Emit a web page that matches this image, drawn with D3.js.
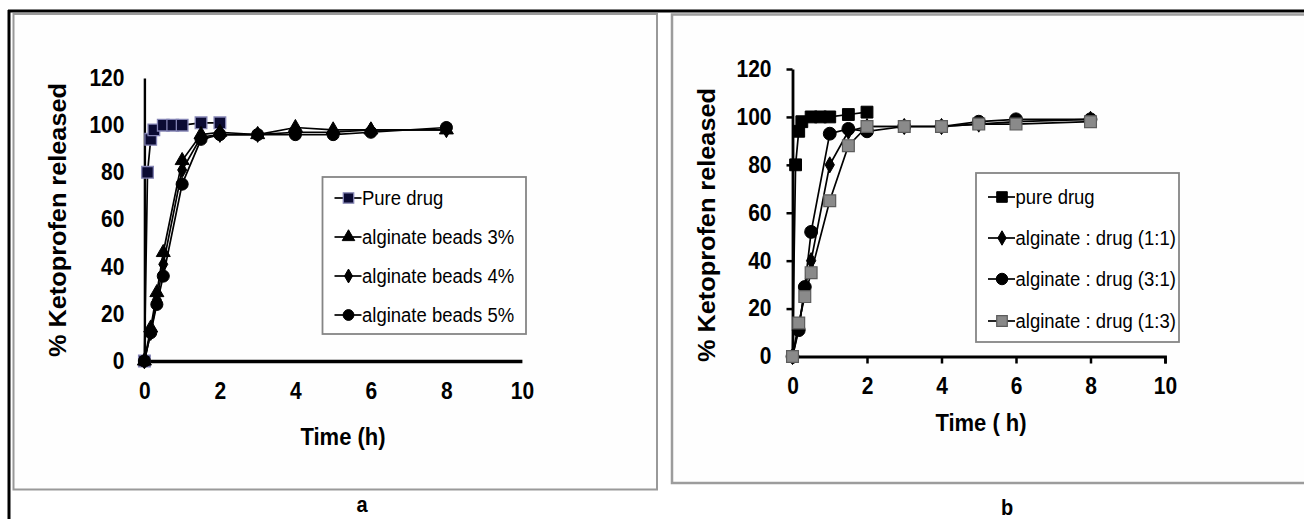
<!DOCTYPE html>
<html>
<head>
<meta charset="utf-8">
<script src="https://cdn.jsdelivr.net/npm/d3@7"></script>
<style>
  html, body { margin: 0; padding: 0; background: #ffffff; }
  svg { display: block; }
  text { font-family: "Liberation Sans", Arial, Helvetica, sans-serif; fill: #000; }
</style>
</head>
<body>
<svg id="fig" width="1304" height="519"></svg>
<script>
// Sampling times (hours)
const timesPure = [0, 0.083, 0.167, 0.25, 0.5, 0.75, 1, 1.5, 2];
const timesBeads = [0, 0.167, 0.33, 0.5, 1, 1.5, 2, 3, 4, 5, 6, 8];

// Panel a: % ketoprofen released
const pureDrugA = [0, 80, 94, 98, 100, 100, 100, 101, 101];
const beads3 = [0, 14, 29, 46, 85, 96, 97, 96, 99, 98, 98, 98];
const beads4 = [0, 12, 26, 41, 81, 95, 96, 96, 97, 97, 98, 98];
const beads5 = [0, 12, 24, 36, 75, 94, 96, 96, 96, 96, 97, 99];

// Panel b: % ketoprofen released
const pureDrugB = [0, 80, 94, 98, 100, 100, 100, 101, 102];
const ratio11 = [0, 12, 28, 40, 80, 94, 96, 96, 96, 97, 98, 99];
const ratio31 = [0, 11, 29, 52, 93, 95, 94, 96, 96, 98, 99, 99];
const ratio13 = [0, 14, 25, 35, 65, 88, 96, 96, 96, 97, 97, 98];

// Axis ticks and labels
const xTicks = [0, 2, 4, 6, 8, 10];
const yTicks = [0, 20, 40, 60, 80, 100, 120];
const legendA = ["Pure drug", "alginate beads 3%", "alginate beads 4%", "alginate beads 5%"];
const legendB = ["pure drug", "alginate : drug (1:1)", "alginate : drug (3:1)", "alginate : drug (1:3)"];

const svg = d3.select("#fig");
const STRETCH = "scale(1,1.1)";

// Page frame: table rules and the two figure boxes
svg.append("line").attr("x1", 8).attr("x2", 1304).attr("y1", 11).attr("y2", 11)
  .attr("stroke", "#000").attr("stroke-width", 3);
svg.append("line").attr("x1", 9).attr("x2", 9).attr("y1", 10).attr("y2", 519)
  .attr("stroke", "#000").attr("stroke-width", 3);
svg.append("rect").attr("x", 13.5).attr("y", 14).attr("width", 643.5).attr("height", 475.5)
  .attr("fill", "#fefefe").attr("stroke", "#999").attr("stroke-width", 2);
svg.append("rect").attr("x", 672).attr("y", 14.5).attr("width", 700).attr("height", 468.5)
  .attr("fill", "#fefefe").attr("stroke", "#9c9c9c").attr("stroke-width", 2.5);

function stretchedText(g, x, y, str, opts) {
  return g.append("text")
    .attr("transform", `translate(${x},${y}) ${STRETCH}` + (opts.rotate ? " rotate(-90)" : ""))
    .attr("text-anchor", opts.anchor || "start")
    .attr("font-size", opts.size)
    .attr("font-weight", opts.weight || "normal")
    .text(str);
}

const symbolTypes = {
  square: d3.symbolSquare,
  triangle: d3.symbolTriangle,
  diamond: d3.symbolDiamond,
  circle: d3.symbolCircle
};

function drawPanel(cfg) {
  const g = svg.append("g");
  const x = d3.scaleLinear().domain([0, 10]).range(cfg.xRange);
  const y = d3.scaleLinear().domain([0, 120]).range(cfg.yRange);

  // axes
  const xAxis = d3.axisBottom(x).tickValues(xTicks).tickFormat(d3.format("d"))
    .tickSizeInner(cfg.tickX).tickSizeOuter(cfg.tickX).tickPadding(cfg.padX);
  const yAxis = d3.axisLeft(y).tickValues(yTicks).tickFormat(d3.format("d"))
    .tickSizeInner(cfg.tickY).tickSizeOuter(0).tickPadding(cfg.padY);

  const gx = g.append("g").attr("transform", `translate(0,${cfg.yRange[0]})`).call(xAxis);
  const gy = g.append("g").attr("transform", `translate(${cfg.xRange[0]},0)`).call(yAxis);
  [gx, gy].forEach(ax => {
    ax.select(".domain").attr("stroke", "#000");
    ax.selectAll(".tick line").attr("stroke", "#000").attr("stroke-width", 2.5);
    ax.selectAll(".tick text")
      .attr("font-size", 21).attr("font-weight", "bold")
      .attr("font-family", "'Liberation Sans', Arial, sans-serif")
      .attr("fill", "#111")
      .attr("transform", STRETCH);
  });
  gx.select(".domain").attr("stroke-width", cfg.xAxisWidth);
  gy.select(".domain").attr("stroke-width", cfg.yAxisWidth);
  gy.select(".tick line").filter(d => d === 0).remove();

  // axis titles
  stretchedText(g, cfg.yTitle[0], cfg.yTitle[1], "% Ketoprofen released",
    { rotate: true, anchor: "middle", size: 23, weight: "bold" });
  stretchedText(g, cfg.xTitle[0], cfg.xTitle[1], cfg.xTitleText,
    { anchor: "middle", size: 22, weight: "bold" });

  // series lines then markers
  const line = d3.line().x(d => x(d[0])).y(d => y(d[1]));
  cfg.series.forEach(s => {
    const pts = s.t.map((t, i) => [t, s.v[i]]);
    g.append("path").datum(pts).attr("d", line)
      .attr("fill", "none").attr("stroke", s.line || "#000").attr("stroke-width", 1.7);
    g.selectAll(null).data(pts).enter().append("path")
      .attr("transform", d => `translate(${x(d[0])},${y(d[1])})`)
      .attr("d", d3.symbol(symbolTypes[s.shape], s.size))
      .attr("fill", s.fill).attr("stroke", s.stroke).attr("stroke-width", s.strokeWidth || 1);
  });

  // legend
  const L = cfg.legend;
  g.append("rect").attr("x", L.x).attr("y", L.y).attr("width", L.w).attr("height", L.h)
    .attr("fill", "#fff").attr("stroke", "#858585").attr("stroke-width", 1.8);
  cfg.series.forEach((s, i) => {
    const cy = L.rows[i];
    g.append("line").attr("x1", L.x + 12).attr("x2", L.x + 39).attr("y1", cy).attr("y2", cy)
      .attr("stroke", "#000").attr("stroke-width", 1.7);
    g.append("path").attr("transform", `translate(${L.x + 26},${cy})`)
      .attr("d", d3.symbol(symbolTypes[s.shape], s.size * 0.8))
      .attr("fill", s.fill).attr("stroke", s.stroke).attr("stroke-width", s.strokeWidth || 1);
    stretchedText(g, L.x + 39.5, cy + 6.5, s.name, { size: 18.5 });
  });

  // panel letter
  stretchedText(svg, cfg.letter[0], cfg.letter[1], cfg.letterText,
    { anchor: "middle", size: 20, weight: "bold" });
}

drawPanel({
  xRange: [144.4, 521.9],
  yRange: [361, 78],
  tickX: 0, tickY: 0, padX: 20, padY: 20,
  xAxisWidth: 3.4, yAxisWidth: 2.4,
  yTitle: [66, 220],
  xTitle: [343, 445], xTitleText: "Time (h)",
  letter: [362, 512], letterText: "a",
  legend: { x: 322.5, y: 177, w: 203.5, h: 157, rows: [198, 237, 276, 315] },
  series: [
    { name: legendA[0], t: timesPure, v: pureDrugA, shape: "square", size: 135,
      fill: "#0b0b33", stroke: "#8484b4", strokeWidth: 1.3 },
    { name: legendA[1], t: timesBeads, v: beads3, shape: "triangle", size: 85,
      fill: "#000", stroke: "#000" },
    { name: legendA[2], t: timesBeads, v: beads4, shape: "diamond", size: 70,
      fill: "#000", stroke: "#000" },
    { name: legendA[3], t: timesBeads, v: beads5, shape: "circle", size: 115,
      fill: "#000", stroke: "#000" }
  ]
});

drawPanel({
  xRange: [792.5, 1165],
  yRange: [356.5, 69],
  tickX: 7, tickY: 6, padX: 12.5, padY: 15,
  xAxisWidth: 2.8, yAxisWidth: 2.8,
  yTitle: [715, 225],
  xTitle: [981, 431], xTitleText: "Time ( h)",
  letter: [1007, 515], letterText: "b",
  legend: { x: 976, y: 173, w: 203, h: 169, rows: [197, 238, 279, 321] },
  series: [
    { name: legendB[0], t: timesPure, v: pureDrugB, shape: "square", size: 140,
      fill: "#000", stroke: "#000" },
    { name: legendB[1], t: timesBeads, v: ratio11, shape: "diamond", size: 75,
      fill: "#000", stroke: "#000" },
    { name: legendB[2], t: timesBeads, v: ratio31, shape: "circle", size: 130,
      fill: "#000", stroke: "#000" },
    { name: legendB[3], t: timesBeads, v: ratio13, shape: "square", size: 140,
      fill: "#8a8a8a", stroke: "#5c5c5c", strokeWidth: 1.2 }
  ]
});
</script>
</body>
</html>
